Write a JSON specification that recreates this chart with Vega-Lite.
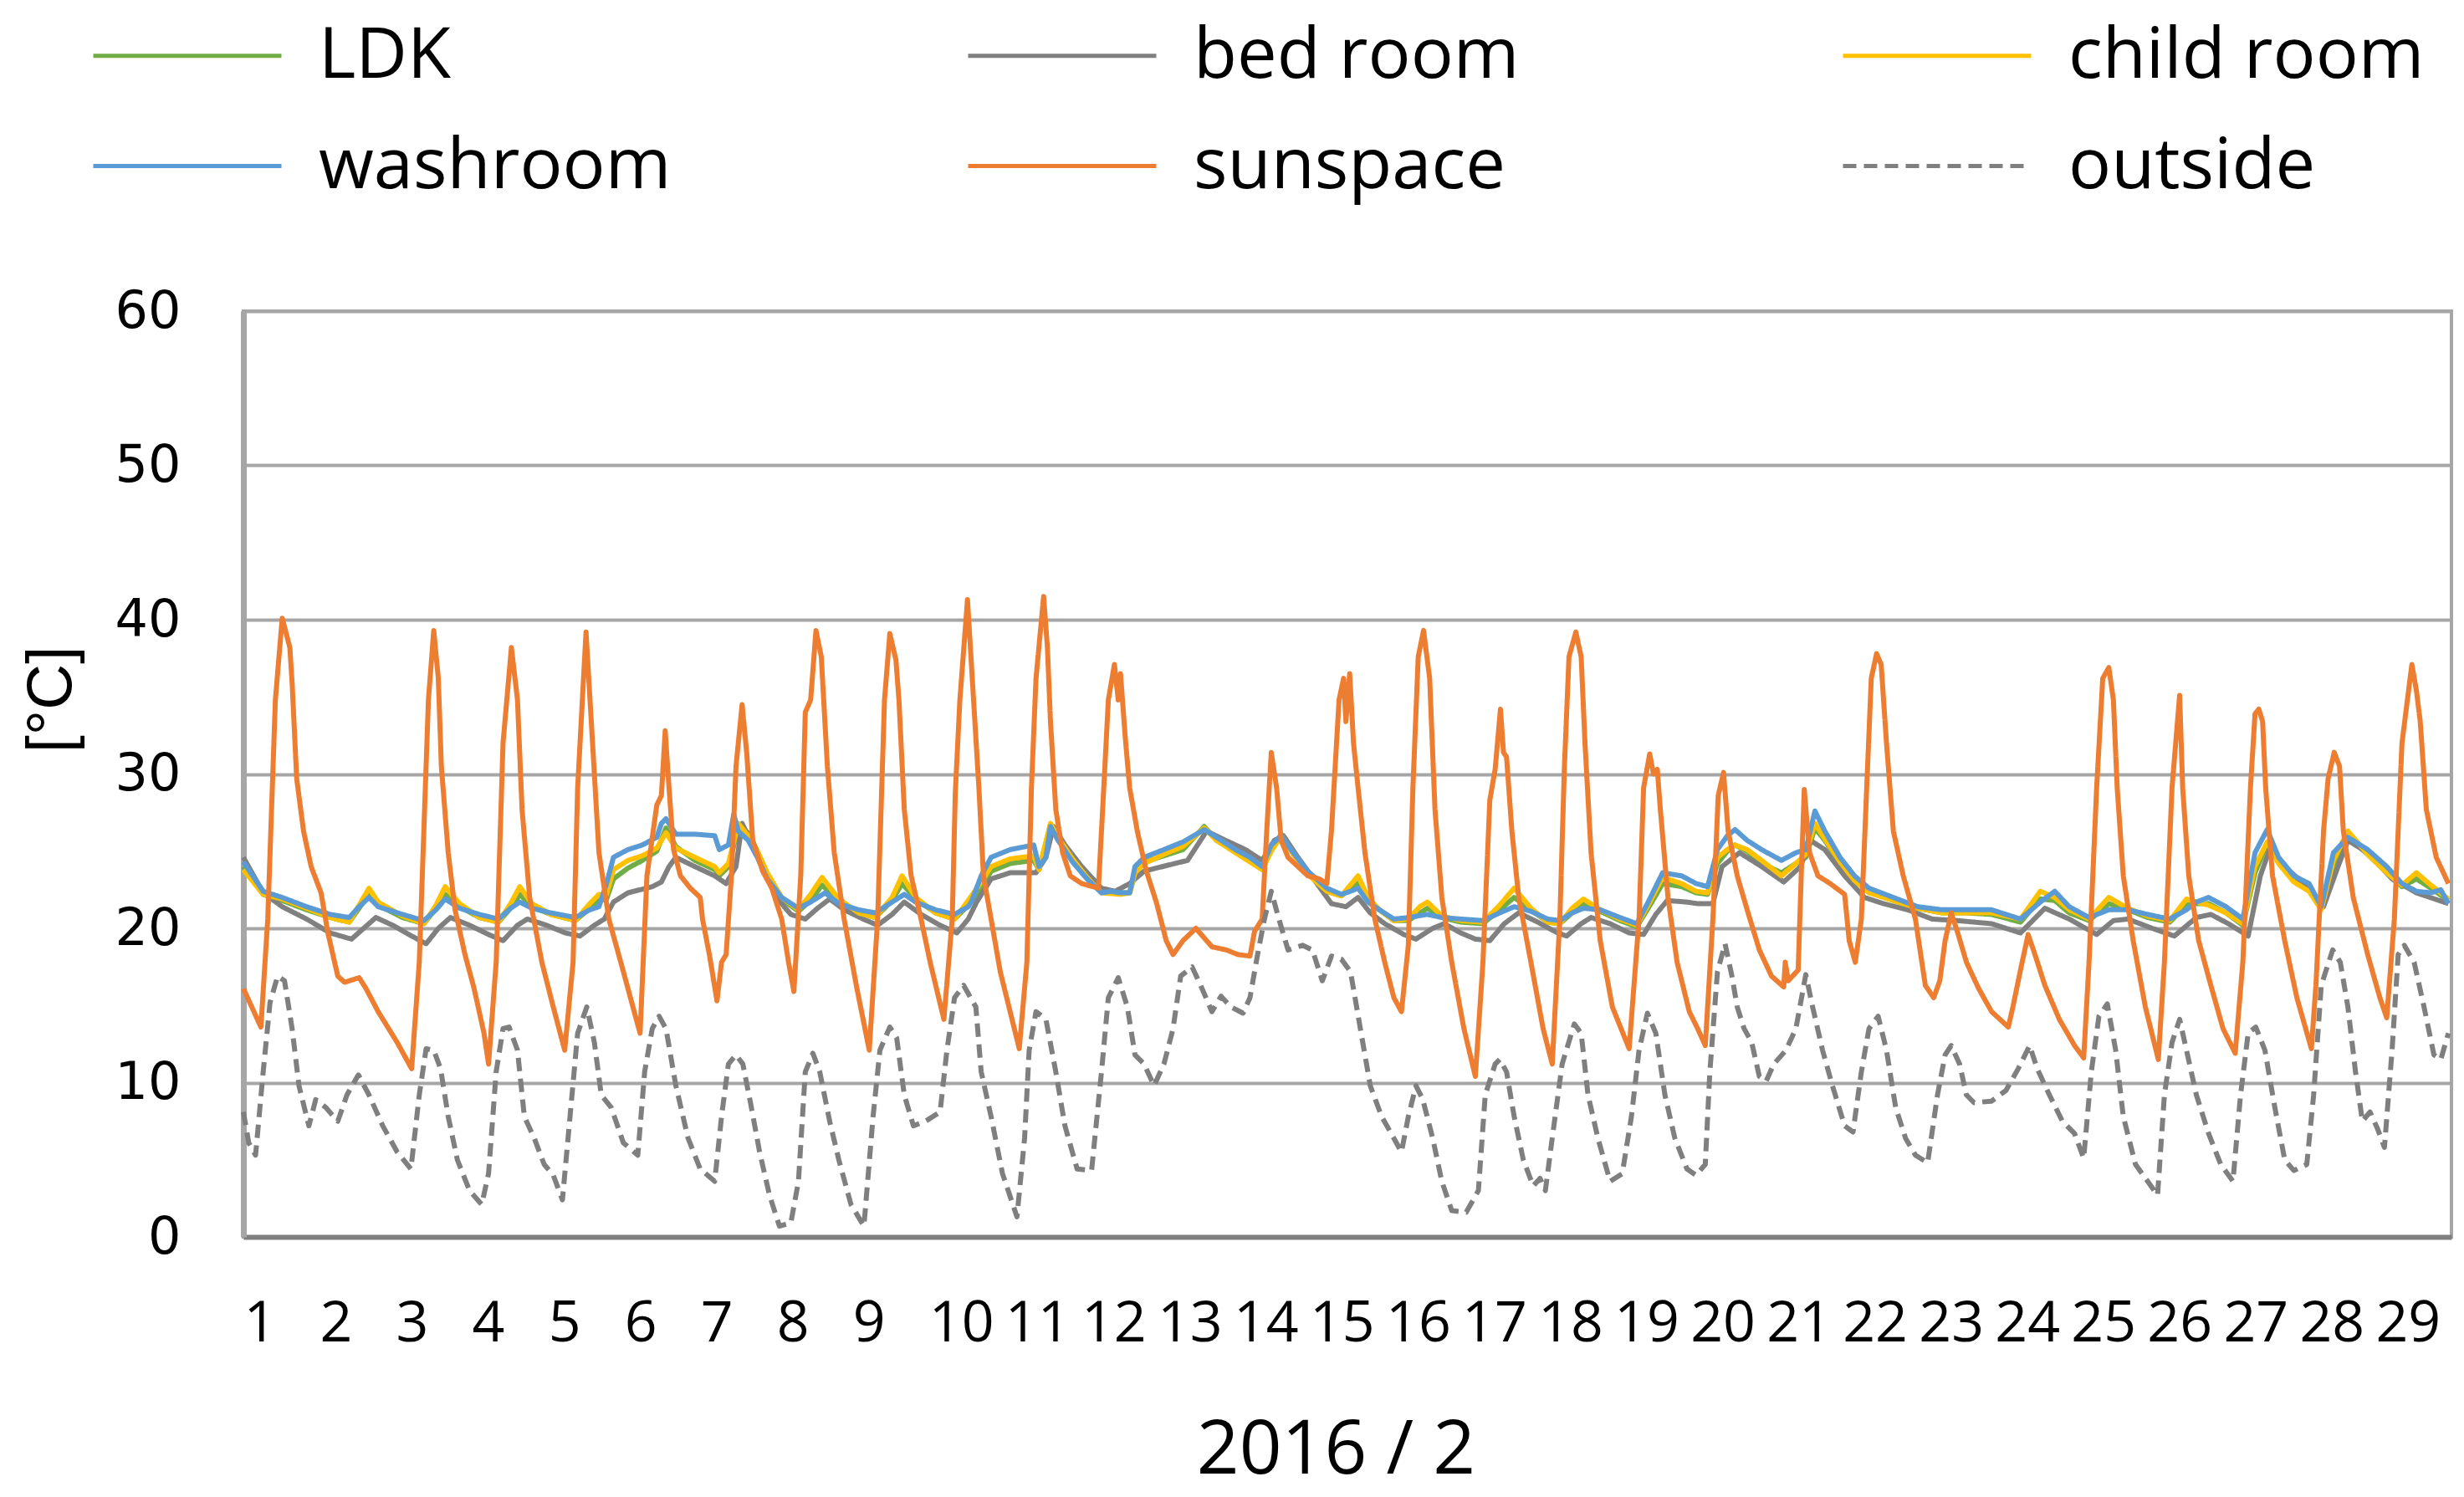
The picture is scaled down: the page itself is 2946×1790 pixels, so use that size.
{
"$schema":"https://vega.github.io/schema/vega-lite/v6.json",
"autosize":{"type":"none"},
"padding":{"left":291,"top":372,"right":15,"bottom":311},
"width":2640,"height":1107,
"background":"white",
"config":{"font":"Open Sans","view":{"stroke":"#A6A6A6","strokeWidth":4},
"legend":{"orient":"none","legendX":-182,"legendY":-348,"direction":"horizontal","columns":3,"gridAlign":"all","columnPadding":348,"rowPadding":46,"symbolType":"stroke","symbolSize":50625,"symbolStrokeWidth":5,"labelFontSize":85,"labelOffset":42,"clipHeight":85,"labelLimit":2000,"padding":0,"labelColor":"#000000","labelFont":"Open Sans"}},
"datasets":{
"LDK":[{"t":1.00,"v":24.0},{"t":1.26,"v":22.2},{"t":1.51,"v":21.8},{"t":1.83,"v":21.2},{"t":2.14,"v":20.7},{"t":2.39,"v":20.4},{"t":2.52,"v":21.3},{"t":2.65,"v":22.2},{"t":2.77,"v":21.5},{"t":3.09,"v":20.7},{"t":3.37,"v":20.3},{"t":3.53,"v":21.3},{"t":3.65,"v":22.2},{"t":3.84,"v":21.4},{"t":4.10,"v":20.7},{"t":4.35,"v":20.4},{"t":4.51,"v":21.3},{"t":4.63,"v":22.2},{"t":4.79,"v":21.4},{"t":5.04,"v":20.9},{"t":5.36,"v":20.5},{"t":5.55,"v":21.3},{"t":5.67,"v":21.8},{"t":5.77,"v":21.9},{"t":5.86,"v":23.2},{"t":6.05,"v":23.9},{"t":6.24,"v":24.4},{"t":6.43,"v":25.0},{"t":6.55,"v":26.5},{"t":6.68,"v":25.3},{"t":6.93,"v":24.4},{"t":7.19,"v":23.8},{"t":7.25,"v":23.4},{"t":7.37,"v":24.0},{"t":7.50,"v":26.5},{"t":7.63,"v":26.2},{"t":7.75,"v":25.0},{"t":7.88,"v":23.5},{"t":8.07,"v":21.9},{"t":8.29,"v":21.1},{"t":8.45,"v":21.8},{"t":8.60,"v":22.8},{"t":8.82,"v":21.8},{"t":9.08,"v":21.0},{"t":9.30,"v":20.7},{"t":9.52,"v":21.8},{"t":9.65,"v":22.9},{"t":9.83,"v":21.9},{"t":10.09,"v":21.0},{"t":10.34,"v":20.6},{"t":10.52,"v":21.5},{"t":10.69,"v":22.6},{"t":10.82,"v":23.7},{"t":11.07,"v":24.2},{"t":11.38,"v":24.4},{"t":11.45,"v":23.8},{"t":11.60,"v":26.7},{"t":11.70,"v":25.8},{"t":11.89,"v":24.5},{"t":12.08,"v":23.3},{"t":12.27,"v":22.4},{"t":12.52,"v":22.3},{"t":12.64,"v":22.3},{"t":12.71,"v":23.5},{"t":12.83,"v":24.3},{"t":13.09,"v":24.7},{"t":13.34,"v":25.1},{"t":13.62,"v":26.6},{"t":13.78,"v":25.7},{"t":14.03,"v":25.0},{"t":14.22,"v":24.4},{"t":14.38,"v":23.9},{"t":14.50,"v":25.1},{"t":14.63,"v":26.1},{"t":14.79,"v":24.8},{"t":14.98,"v":23.6},{"t":15.23,"v":22.4},{"t":15.42,"v":22.1},{"t":15.64,"v":23.0},{"t":15.77,"v":21.9},{"t":15.92,"v":21.2},{"t":16.11,"v":20.5},{"t":16.30,"v":20.5},{"t":16.55,"v":21.3},{"t":16.74,"v":20.7},{"t":16.99,"v":20.4},{"t":17.28,"v":20.3},{"t":17.50,"v":21.2},{"t":17.69,"v":22.0},{"t":17.91,"v":21.2},{"t":18.13,"v":20.4},{"t":18.29,"v":20.3},{"t":18.45,"v":21.0},{"t":18.60,"v":21.6},{"t":18.82,"v":21.1},{"t":19.08,"v":20.5},{"t":19.30,"v":20.1},{"t":19.45,"v":21.3},{"t":19.64,"v":22.9},{"t":19.89,"v":22.7},{"t":20.08,"v":22.3},{"t":20.23,"v":22.2},{"t":20.36,"v":24.2},{"t":20.49,"v":25.0},{"t":20.59,"v":25.4},{"t":20.75,"v":25.0},{"t":20.94,"v":24.2},{"t":21.20,"v":23.6},{"t":21.39,"v":24.2},{"t":21.52,"v":24.6},{"t":21.64,"v":26.5},{"t":21.77,"v":25.7},{"t":21.97,"v":24.2},{"t":22.16,"v":23.2},{"t":22.35,"v":22.4},{"t":22.67,"v":21.8},{"t":22.99,"v":21.3},{"t":23.31,"v":21.0},{"t":23.63,"v":21.0},{"t":23.96,"v":20.9},{"t":24.34,"v":20.4},{"t":24.60,"v":21.9},{"t":24.79,"v":21.8},{"t":24.98,"v":21.0},{"t":25.24,"v":20.5},{"t":25.50,"v":21.6},{"t":25.75,"v":21.2},{"t":26.01,"v":20.7},{"t":26.30,"v":20.4},{"t":26.52,"v":21.5},{"t":26.65,"v":21.6},{"t":26.81,"v":21.6},{"t":27.04,"v":21.0},{"t":27.26,"v":20.2},{"t":27.42,"v":23.6},{"t":27.58,"v":25.5},{"t":27.73,"v":24.3},{"t":27.93,"v":23.2},{"t":28.13,"v":22.5},{"t":28.29,"v":21.3},{"t":28.45,"v":24.1},{"t":28.64,"v":25.9},{"t":28.90,"v":24.8},{"t":29.15,"v":23.6},{"t":29.35,"v":22.7},{"t":29.54,"v":23.2},{"t":29.73,"v":22.6},{"t":29.96,"v":21.8}],
"bedroom":[{"t":1.00,"v":24.6},{"t":1.26,"v":22.3},{"t":1.51,"v":21.4},{"t":1.83,"v":20.6},{"t":2.14,"v":19.7},{"t":2.42,"v":19.3},{"t":2.58,"v":20.0},{"t":2.74,"v":20.7},{"t":2.96,"v":20.2},{"t":3.21,"v":19.5},{"t":3.40,"v":19.0},{"t":3.56,"v":20.0},{"t":3.72,"v":20.7},{"t":3.97,"v":20.2},{"t":4.22,"v":19.6},{"t":4.41,"v":19.2},{"t":4.60,"v":20.2},{"t":4.73,"v":20.6},{"t":4.98,"v":20.2},{"t":5.23,"v":19.7},{"t":5.42,"v":19.5},{"t":5.61,"v":20.2},{"t":5.74,"v":20.6},{"t":5.86,"v":21.7},{"t":6.05,"v":22.3},{"t":6.37,"v":22.7},{"t":6.49,"v":23.0},{"t":6.59,"v":24.0},{"t":6.68,"v":24.6},{"t":6.93,"v":24.0},{"t":7.19,"v":23.4},{"t":7.34,"v":22.9},{"t":7.47,"v":24.0},{"t":7.55,"v":26.8},{"t":7.66,"v":25.7},{"t":7.82,"v":24.0},{"t":8.00,"v":22.0},{"t":8.19,"v":20.9},{"t":8.38,"v":20.6},{"t":8.54,"v":21.3},{"t":8.70,"v":21.9},{"t":8.89,"v":21.2},{"t":9.14,"v":20.6},{"t":9.33,"v":20.2},{"t":9.52,"v":20.9},{"t":9.68,"v":21.7},{"t":9.90,"v":20.9},{"t":10.15,"v":20.2},{"t":10.37,"v":19.7},{"t":10.52,"v":20.6},{"t":10.63,"v":21.7},{"t":10.82,"v":23.2},{"t":11.07,"v":23.6},{"t":11.41,"v":23.6},{"t":11.54,"v":24.6},{"t":11.64,"v":26.6},{"t":11.79,"v":25.4},{"t":12.01,"v":24.0},{"t":12.27,"v":22.6},{"t":12.45,"v":22.4},{"t":12.64,"v":22.9},{"t":12.83,"v":23.7},{"t":13.15,"v":24.1},{"t":13.40,"v":24.4},{"t":13.65,"v":26.3},{"t":13.90,"v":25.7},{"t":14.16,"v":25.1},{"t":14.38,"v":24.4},{"t":14.54,"v":25.7},{"t":14.66,"v":26.0},{"t":14.85,"v":24.6},{"t":15.10,"v":22.9},{"t":15.29,"v":21.6},{"t":15.48,"v":21.4},{"t":15.64,"v":22.0},{"t":15.80,"v":21.0},{"t":15.99,"v":20.3},{"t":16.24,"v":19.6},{"t":16.40,"v":19.3},{"t":16.62,"v":20.0},{"t":16.77,"v":20.3},{"t":16.99,"v":19.7},{"t":17.18,"v":19.3},{"t":17.37,"v":19.2},{"t":17.56,"v":20.3},{"t":17.75,"v":21.0},{"t":18.00,"v":20.4},{"t":18.26,"v":19.7},{"t":18.38,"v":19.5},{"t":18.57,"v":20.3},{"t":18.70,"v":20.7},{"t":18.95,"v":20.3},{"t":19.20,"v":19.7},{"t":19.39,"v":19.6},{"t":19.55,"v":20.9},{"t":19.70,"v":21.8},{"t":19.96,"v":21.7},{"t":20.10,"v":21.6},{"t":20.30,"v":21.6},{"t":20.42,"v":24.0},{"t":20.65,"v":24.9},{"t":20.94,"v":24.0},{"t":21.23,"v":23.0},{"t":21.45,"v":24.0},{"t":21.58,"v":25.7},{"t":21.77,"v":25.1},{"t":22.03,"v":23.4},{"t":22.29,"v":22.0},{"t":22.54,"v":21.6},{"t":22.86,"v":21.2},{"t":23.18,"v":20.6},{"t":23.51,"v":20.5},{"t":23.96,"v":20.3},{"t":24.34,"v":19.7},{"t":24.66,"v":21.3},{"t":24.98,"v":20.6},{"t":25.34,"v":19.6},{"t":25.56,"v":20.5},{"t":25.75,"v":20.6},{"t":26.07,"v":20.0},{"t":26.36,"v":19.5},{"t":26.65,"v":20.7},{"t":26.84,"v":20.9},{"t":27.07,"v":20.3},{"t":27.33,"v":19.5},{"t":27.49,"v":23.4},{"t":27.61,"v":25.1},{"t":27.81,"v":24.0},{"t":28.06,"v":22.9},{"t":28.32,"v":21.4},{"t":28.51,"v":24.0},{"t":28.64,"v":25.7},{"t":28.90,"v":24.9},{"t":29.22,"v":23.2},{"t":29.54,"v":22.3},{"t":29.96,"v":21.6}],
"child":[{"t":1.00,"v":23.8},{"t":1.26,"v":22.2},{"t":1.51,"v":21.9},{"t":1.83,"v":21.3},{"t":2.14,"v":20.7},{"t":2.39,"v":20.4},{"t":2.52,"v":21.5},{"t":2.65,"v":22.6},{"t":2.77,"v":21.7},{"t":3.09,"v":20.8},{"t":3.37,"v":20.3},{"t":3.53,"v":21.5},{"t":3.65,"v":22.7},{"t":3.84,"v":21.6},{"t":4.10,"v":20.7},{"t":4.35,"v":20.4},{"t":4.51,"v":21.6},{"t":4.63,"v":22.7},{"t":4.79,"v":21.6},{"t":5.04,"v":20.9},{"t":5.36,"v":20.5},{"t":5.55,"v":21.6},{"t":5.67,"v":22.2},{"t":5.77,"v":22.2},{"t":5.86,"v":23.8},{"t":6.05,"v":24.4},{"t":6.24,"v":24.7},{"t":6.43,"v":25.2},{"t":6.55,"v":26.2},{"t":6.68,"v":25.2},{"t":6.93,"v":24.6},{"t":7.19,"v":24.0},{"t":7.25,"v":23.6},{"t":7.37,"v":24.2},{"t":7.50,"v":26.8},{"t":7.63,"v":26.0},{"t":7.75,"v":25.0},{"t":7.88,"v":23.6},{"t":8.07,"v":22.0},{"t":8.29,"v":21.2},{"t":8.45,"v":22.2},{"t":8.60,"v":23.3},{"t":8.82,"v":21.9},{"t":9.08,"v":21.0},{"t":9.30,"v":20.7},{"t":9.52,"v":22.0},{"t":9.65,"v":23.4},{"t":9.83,"v":22.0},{"t":10.09,"v":21.0},{"t":10.34,"v":20.6},{"t":10.52,"v":21.8},{"t":10.69,"v":23.0},{"t":10.82,"v":24.0},{"t":11.07,"v":24.5},{"t":11.38,"v":24.7},{"t":11.45,"v":23.8},{"t":11.60,"v":26.8},{"t":11.70,"v":25.9},{"t":11.89,"v":24.5},{"t":12.08,"v":23.3},{"t":12.27,"v":22.3},{"t":12.52,"v":22.2},{"t":12.64,"v":22.3},{"t":12.71,"v":23.6},{"t":12.83,"v":24.2},{"t":13.09,"v":24.8},{"t":13.34,"v":25.3},{"t":13.62,"v":26.5},{"t":13.78,"v":25.7},{"t":14.03,"v":24.9},{"t":14.22,"v":24.3},{"t":14.38,"v":23.8},{"t":14.50,"v":25.0},{"t":14.63,"v":26.0},{"t":14.79,"v":24.8},{"t":14.98,"v":23.5},{"t":15.23,"v":22.4},{"t":15.42,"v":22.1},{"t":15.64,"v":23.4},{"t":15.77,"v":22.0},{"t":15.92,"v":21.2},{"t":16.11,"v":20.5},{"t":16.30,"v":20.6},{"t":16.45,"v":21.4},{"t":16.55,"v":21.7},{"t":16.74,"v":20.8},{"t":16.99,"v":20.5},{"t":17.28,"v":20.4},{"t":17.50,"v":21.5},{"t":17.69,"v":22.6},{"t":17.91,"v":21.3},{"t":18.13,"v":20.4},{"t":18.29,"v":20.3},{"t":18.45,"v":21.3},{"t":18.60,"v":21.9},{"t":18.82,"v":21.2},{"t":19.08,"v":20.6},{"t":19.30,"v":20.2},{"t":19.45,"v":21.5},{"t":19.64,"v":23.3},{"t":19.89,"v":22.9},{"t":20.08,"v":22.4},{"t":20.23,"v":22.3},{"t":20.36,"v":24.6},{"t":20.49,"v":25.1},{"t":20.59,"v":25.4},{"t":20.75,"v":25.1},{"t":20.94,"v":24.4},{"t":21.20,"v":23.4},{"t":21.39,"v":24.2},{"t":21.52,"v":24.8},{"t":21.64,"v":26.8},{"t":21.77,"v":25.8},{"t":21.97,"v":24.3},{"t":22.16,"v":23.1},{"t":22.35,"v":22.3},{"t":22.67,"v":21.8},{"t":22.99,"v":21.3},{"t":23.31,"v":21.0},{"t":23.63,"v":21.0},{"t":23.96,"v":21.0},{"t":24.34,"v":20.6},{"t":24.60,"v":22.4},{"t":24.79,"v":22.0},{"t":24.98,"v":21.2},{"t":25.24,"v":20.6},{"t":25.50,"v":22.0},{"t":25.75,"v":21.3},{"t":26.01,"v":20.8},{"t":26.30,"v":20.5},{"t":26.52,"v":21.9},{"t":26.65,"v":21.7},{"t":26.81,"v":21.5},{"t":27.04,"v":21.0},{"t":27.26,"v":20.3},{"t":27.42,"v":24.0},{"t":27.58,"v":25.6},{"t":27.73,"v":24.2},{"t":27.93,"v":23.0},{"t":28.13,"v":22.4},{"t":28.29,"v":21.2},{"t":28.45,"v":24.4},{"t":28.64,"v":26.3},{"t":28.90,"v":24.8},{"t":29.15,"v":23.6},{"t":29.35,"v":22.8},{"t":29.54,"v":23.6},{"t":29.73,"v":22.8},{"t":29.96,"v":21.9}],
"washroom":[{"t":1.00,"v":24.3},{"t":1.26,"v":22.4},{"t":1.51,"v":22.0},{"t":1.83,"v":21.4},{"t":2.14,"v":20.9},{"t":2.39,"v":20.7},{"t":2.52,"v":21.4},{"t":2.65,"v":22.0},{"t":2.77,"v":21.4},{"t":3.09,"v":20.9},{"t":3.37,"v":20.5},{"t":3.53,"v":21.2},{"t":3.65,"v":21.9},{"t":3.84,"v":21.3},{"t":4.10,"v":20.9},{"t":4.35,"v":20.6},{"t":4.51,"v":21.3},{"t":4.63,"v":21.7},{"t":4.79,"v":21.3},{"t":5.04,"v":21.0},{"t":5.36,"v":20.7},{"t":5.55,"v":21.2},{"t":5.67,"v":21.4},{"t":5.77,"v":22.9},{"t":5.86,"v":24.6},{"t":6.05,"v":25.1},{"t":6.24,"v":25.4},{"t":6.43,"v":25.9},{"t":6.49,"v":26.8},{"t":6.55,"v":27.1},{"t":6.68,"v":26.1},{"t":6.93,"v":26.1},{"t":7.19,"v":26.0},{"t":7.25,"v":25.1},{"t":7.37,"v":25.4},{"t":7.44,"v":27.4},{"t":7.50,"v":26.3},{"t":7.63,"v":25.7},{"t":7.75,"v":24.6},{"t":7.88,"v":23.2},{"t":8.07,"v":22.0},{"t":8.29,"v":21.3},{"t":8.45,"v":21.7},{"t":8.64,"v":22.3},{"t":8.82,"v":21.6},{"t":9.08,"v":21.2},{"t":9.30,"v":21.0},{"t":9.52,"v":21.7},{"t":9.68,"v":22.2},{"t":9.83,"v":21.7},{"t":10.09,"v":21.2},{"t":10.34,"v":20.9},{"t":10.52,"v":21.4},{"t":10.56,"v":21.7},{"t":10.69,"v":23.4},{"t":10.82,"v":24.6},{"t":11.07,"v":25.1},{"t":11.38,"v":25.4},{"t":11.45,"v":24.0},{"t":11.54,"v":24.6},{"t":11.60,"v":26.6},{"t":11.70,"v":25.7},{"t":11.89,"v":24.3},{"t":12.08,"v":23.2},{"t":12.27,"v":22.3},{"t":12.39,"v":22.4},{"t":12.52,"v":22.3},{"t":12.64,"v":22.3},{"t":12.71,"v":24.0},{"t":12.83,"v":24.6},{"t":13.09,"v":25.1},{"t":13.34,"v":25.6},{"t":13.62,"v":26.4},{"t":13.78,"v":25.9},{"t":14.03,"v":25.1},{"t":14.22,"v":24.6},{"t":14.38,"v":24.0},{"t":14.50,"v":25.4},{"t":14.63,"v":26.0},{"t":14.79,"v":24.9},{"t":14.98,"v":23.7},{"t":15.23,"v":22.6},{"t":15.42,"v":22.2},{"t":15.54,"v":22.4},{"t":15.64,"v":22.6},{"t":15.77,"v":21.7},{"t":15.92,"v":21.2},{"t":16.11,"v":20.6},{"t":16.30,"v":20.7},{"t":16.55,"v":20.9},{"t":16.74,"v":20.7},{"t":16.99,"v":20.6},{"t":17.28,"v":20.5},{"t":17.50,"v":21.0},{"t":17.69,"v":21.4},{"t":17.91,"v":21.1},{"t":18.13,"v":20.6},{"t":18.29,"v":20.5},{"t":18.45,"v":21.0},{"t":18.60,"v":21.3},{"t":18.82,"v":21.2},{"t":19.08,"v":20.7},{"t":19.30,"v":20.3},{"t":19.45,"v":21.7},{"t":19.64,"v":23.6},{"t":19.89,"v":23.4},{"t":20.08,"v":22.9},{"t":20.23,"v":22.7},{"t":20.36,"v":25.1},{"t":20.49,"v":26.0},{"t":20.59,"v":26.4},{"t":20.75,"v":25.7},{"t":20.94,"v":25.1},{"t":21.20,"v":24.4},{"t":21.39,"v":24.9},{"t":21.52,"v":25.1},{"t":21.64,"v":27.6},{"t":21.77,"v":26.3},{"t":21.97,"v":24.6},{"t":22.16,"v":23.4},{"t":22.35,"v":22.6},{"t":22.67,"v":22.0},{"t":22.99,"v":21.4},{"t":23.31,"v":21.2},{"t":23.63,"v":21.2},{"t":23.96,"v":21.2},{"t":24.34,"v":20.6},{"t":24.60,"v":21.7},{"t":24.79,"v":22.4},{"t":24.98,"v":21.4},{"t":25.24,"v":20.7},{"t":25.50,"v":21.2},{"t":25.75,"v":21.2},{"t":26.01,"v":20.9},{"t":26.30,"v":20.6},{"t":26.52,"v":21.2},{"t":26.65,"v":21.7},{"t":26.81,"v":22.0},{"t":27.04,"v":21.4},{"t":27.26,"v":20.6},{"t":27.42,"v":24.9},{"t":27.58,"v":26.4},{"t":27.73,"v":24.6},{"t":27.93,"v":23.4},{"t":28.13,"v":22.9},{"t":28.29,"v":21.4},{"t":28.45,"v":24.9},{"t":28.64,"v":25.9},{"t":28.90,"v":25.1},{"t":29.15,"v":24.0},{"t":29.35,"v":22.9},{"t":29.54,"v":22.4},{"t":29.73,"v":22.3},{"t":29.86,"v":22.5},{"t":29.96,"v":21.6}],
"sunspace":[{"t":1.00,"v":16.1},{"t":1.23,"v":13.6},{"t":1.32,"v":20.6},{"t":1.42,"v":34.8},{"t":1.51,"v":40.1},{"t":1.61,"v":38.2},{"t":1.64,"v":35.9},{"t":1.70,"v":29.7},{"t":1.79,"v":26.3},{"t":1.89,"v":24.0},{"t":2.02,"v":22.3},{"t":2.11,"v":19.7},{"t":2.24,"v":16.9},{"t":2.33,"v":16.5},{"t":2.52,"v":16.8},{"t":2.61,"v":16.1},{"t":2.77,"v":14.6},{"t":3.02,"v":12.6},{"t":3.21,"v":10.9},{"t":3.31,"v":17.8},{"t":3.37,"v":26.3},{"t":3.43,"v":34.8},{"t":3.50,"v":39.3},{"t":3.56,"v":36.2},{"t":3.60,"v":30.5},{"t":3.69,"v":24.9},{"t":3.78,"v":21.2},{"t":3.91,"v":18.3},{"t":4.03,"v":16.1},{"t":4.16,"v":13.2},{"t":4.22,"v":11.2},{"t":4.32,"v":17.8},{"t":4.41,"v":32.0},{"t":4.52,"v":38.2},{"t":4.60,"v":34.8},{"t":4.66,"v":27.7},{"t":4.76,"v":22.0},{"t":4.92,"v":17.8},{"t":5.07,"v":14.9},{"t":5.22,"v":12.1},{"t":5.33,"v":17.8},{"t":5.39,"v":29.1},{"t":5.50,"v":39.2},{"t":5.58,"v":32.5},{"t":5.67,"v":24.9},{"t":5.80,"v":20.6},{"t":5.99,"v":17.2},{"t":6.21,"v":13.2},{"t":6.30,"v":23.4},{"t":6.43,"v":28.0},{"t":6.49,"v":28.6},{"t":6.54,"v":32.8},{"t":6.59,"v":29.1},{"t":6.65,"v":25.1},{"t":6.74,"v":23.4},{"t":6.87,"v":22.6},{"t":7.00,"v":22.0},{"t":7.03,"v":20.6},{"t":7.12,"v":18.3},{"t":7.22,"v":15.3},{"t":7.28,"v":17.8},{"t":7.34,"v":18.3},{"t":7.41,"v":23.4},{"t":7.47,"v":30.5},{"t":7.55,"v":34.5},{"t":7.61,"v":31.4},{"t":7.69,"v":25.7},{"t":7.82,"v":23.7},{"t":7.94,"v":22.6},{"t":8.07,"v":20.6},{"t":8.16,"v":17.8},{"t":8.23,"v":15.9},{"t":8.32,"v":23.4},{"t":8.38,"v":34.0},{"t":8.45,"v":34.8},{"t":8.52,"v":39.3},{"t":8.59,"v":37.6},{"t":8.67,"v":30.5},{"t":8.76,"v":24.9},{"t":8.89,"v":20.6},{"t":9.05,"v":16.3},{"t":9.22,"v":12.1},{"t":9.33,"v":20.6},{"t":9.42,"v":34.8},{"t":9.49,"v":39.1},{"t":9.57,"v":37.4},{"t":9.61,"v":34.8},{"t":9.68,"v":27.7},{"t":9.77,"v":23.4},{"t":9.90,"v":20.6},{"t":10.02,"v":17.8},{"t":10.20,"v":14.1},{"t":10.31,"v":20.6},{"t":10.35,"v":28.8},{"t":10.41,"v":34.8},{"t":10.51,"v":41.3},{"t":10.59,"v":34.8},{"t":10.66,"v":29.1},{"t":10.72,"v":23.4},{"t":10.82,"v":20.6},{"t":10.94,"v":17.2},{"t":11.07,"v":14.6},{"t":11.19,"v":12.2},{"t":11.29,"v":17.8},{"t":11.35,"v":29.1},{"t":11.41,"v":36.2},{"t":11.51,"v":41.5},{"t":11.56,"v":38.2},{"t":11.60,"v":33.4},{"t":11.67,"v":27.7},{"t":11.76,"v":24.9},{"t":11.86,"v":23.4},{"t":12.01,"v":22.9},{"t":12.23,"v":22.6},{"t":12.30,"v":29.1},{"t":12.36,"v":34.8},{"t":12.44,"v":37.1},{"t":12.49,"v":34.8},{"t":12.52,"v":36.5},{"t":12.58,"v":32.5},{"t":12.64,"v":29.1},{"t":12.74,"v":26.3},{"t":12.86,"v":23.7},{"t":12.99,"v":21.7},{"t":13.12,"v":19.2},{"t":13.21,"v":18.3},{"t":13.34,"v":19.2},{"t":13.51,"v":20.0},{"t":13.72,"v":18.8},{"t":13.91,"v":18.6},{"t":14.06,"v":18.3},{"t":14.22,"v":18.2},{"t":14.28,"v":19.8},{"t":14.38,"v":20.6},{"t":14.44,"v":26.3},{"t":14.50,"v":31.4},{"t":14.57,"v":29.1},{"t":14.63,"v":25.7},{"t":14.72,"v":24.6},{"t":14.85,"v":24.0},{"t":14.98,"v":23.4},{"t":15.13,"v":23.2},{"t":15.23,"v":22.9},{"t":15.29,"v":26.3},{"t":15.39,"v":34.8},{"t":15.45,"v":36.2},{"t":15.48,"v":33.4},{"t":15.53,"v":36.5},{"t":15.58,"v":32.0},{"t":15.64,"v":29.1},{"t":15.73,"v":24.9},{"t":15.86,"v":20.6},{"t":15.99,"v":17.8},{"t":16.11,"v":15.5},{"t":16.21,"v":14.6},{"t":16.30,"v":18.9},{"t":16.36,"v":29.1},{"t":16.43,"v":37.6},{"t":16.50,"v":39.3},{"t":16.58,"v":36.2},{"t":16.65,"v":27.7},{"t":16.74,"v":22.0},{"t":16.87,"v":17.8},{"t":17.03,"v":13.5},{"t":17.18,"v":10.4},{"t":17.28,"v":17.8},{"t":17.37,"v":28.3},{"t":17.44,"v":30.3},{"t":17.51,"v":34.2},{"t":17.55,"v":31.4},{"t":17.59,"v":31.1},{"t":17.66,"v":26.3},{"t":17.75,"v":22.0},{"t":17.91,"v":17.8},{"t":18.07,"v":13.5},{"t":18.19,"v":11.2},{"t":18.29,"v":20.6},{"t":18.35,"v":30.5},{"t":18.41,"v":37.6},{"t":18.50,"v":39.2},{"t":18.57,"v":37.6},{"t":18.62,"v":32.0},{"t":18.70,"v":24.9},{"t":18.82,"v":19.2},{"t":18.98,"v":14.9},{"t":19.20,"v":12.2},{"t":19.33,"v":20.6},{"t":19.39,"v":29.1},{"t":19.47,"v":31.3},{"t":19.52,"v":30.0},{"t":19.57,"v":30.3},{"t":19.61,"v":27.7},{"t":19.71,"v":22.0},{"t":19.83,"v":17.8},{"t":19.99,"v":14.6},{"t":20.10,"v":13.5},{"t":20.20,"v":12.4},{"t":20.30,"v":20.6},{"t":20.37,"v":28.6},{"t":20.44,"v":30.1},{"t":20.50,"v":26.3},{"t":20.62,"v":23.4},{"t":20.75,"v":21.2},{"t":20.91,"v":18.6},{"t":21.07,"v":16.9},{"t":21.23,"v":16.2},{"t":21.25,"v":17.8},{"t":21.29,"v":16.6},{"t":21.42,"v":17.3},{"t":21.46,"v":23.4},{"t":21.50,"v":29.0},{"t":21.57,"v":24.9},{"t":21.68,"v":23.4},{"t":21.84,"v":22.9},{"t":22.03,"v":22.2},{"t":22.09,"v":19.2},{"t":22.17,"v":17.8},{"t":22.25,"v":20.6},{"t":22.32,"v":29.1},{"t":22.38,"v":36.2},{"t":22.45,"v":37.8},{"t":22.51,"v":37.1},{"t":22.58,"v":32.0},{"t":22.67,"v":26.3},{"t":22.80,"v":23.4},{"t":22.96,"v":20.6},{"t":23.09,"v":16.3},{"t":23.20,"v":15.5},{"t":23.28,"v":16.6},{"t":23.35,"v":19.2},{"t":23.43,"v":21.0},{"t":23.51,"v":19.8},{"t":23.63,"v":17.8},{"t":23.79,"v":16.1},{"t":23.96,"v":14.6},{"t":24.18,"v":13.6},{"t":24.24,"v":14.9},{"t":24.34,"v":17.3},{"t":24.44,"v":19.6},{"t":24.53,"v":18.3},{"t":24.66,"v":16.3},{"t":24.85,"v":14.1},{"t":25.05,"v":12.4},{"t":25.17,"v":11.6},{"t":25.24,"v":17.8},{"t":25.34,"v":29.1},{"t":25.42,"v":36.2},{"t":25.50,"v":36.9},{"t":25.56,"v":34.8},{"t":25.61,"v":29.1},{"t":25.69,"v":23.4},{"t":25.82,"v":19.2},{"t":25.98,"v":14.9},{"t":26.15,"v":11.5},{"t":26.23,"v":17.8},{"t":26.33,"v":29.1},{"t":26.43,"v":35.1},{"t":26.47,"v":29.1},{"t":26.55,"v":23.4},{"t":26.68,"v":19.2},{"t":26.84,"v":16.3},{"t":27.00,"v":13.5},{"t":27.16,"v":11.9},{"t":27.26,"v":17.8},{"t":27.36,"v":29.1},{"t":27.42,"v":33.9},{"t":27.47,"v":34.2},{"t":27.52,"v":33.4},{"t":27.56,"v":29.1},{"t":27.65,"v":23.4},{"t":27.81,"v":19.2},{"t":27.97,"v":15.5},{"t":28.16,"v":12.2},{"t":28.22,"v":16.3},{"t":28.32,"v":26.3},{"t":28.38,"v":29.7},{"t":28.46,"v":31.4},{"t":28.53,"v":30.5},{"t":28.58,"v":26.3},{"t":28.71,"v":22.0},{"t":28.90,"v":18.3},{"t":29.06,"v":15.5},{"t":29.15,"v":14.2},{"t":29.25,"v":20.6},{"t":29.35,"v":32.0},{"t":29.48,"v":37.1},{"t":29.54,"v":35.4},{"t":29.59,"v":33.4},{"t":29.67,"v":27.7},{"t":29.80,"v":24.6},{"t":29.96,"v":22.9}],
"outside":[{"t":1.00,"v":8.1},{"t":1.07,"v":6.1},{"t":1.16,"v":5.3},{"t":1.26,"v":10.7},{"t":1.35,"v":15.2},{"t":1.45,"v":16.9},{"t":1.54,"v":16.6},{"t":1.64,"v":13.5},{"t":1.73,"v":9.8},{"t":1.86,"v":7.2},{"t":1.95,"v":8.9},{"t":2.08,"v":8.4},{"t":2.24,"v":7.5},{"t":2.36,"v":9.2},{"t":2.51,"v":10.5},{"t":2.65,"v":9.2},{"t":2.83,"v":7.2},{"t":3.02,"v":5.5},{"t":3.20,"v":4.4},{"t":3.31,"v":9.2},{"t":3.40,"v":12.2},{"t":3.50,"v":12.1},{"t":3.59,"v":10.9},{"t":3.69,"v":7.8},{"t":3.81,"v":5.0},{"t":3.97,"v":3.0},{"t":4.13,"v":2.1},{"t":4.22,"v":4.1},{"t":4.32,"v":10.7},{"t":4.41,"v":13.5},{"t":4.49,"v":13.6},{"t":4.60,"v":12.1},{"t":4.69,"v":7.8},{"t":4.82,"v":6.4},{"t":4.95,"v":4.7},{"t":5.07,"v":4.0},{"t":5.19,"v":2.4},{"t":5.29,"v":7.8},{"t":5.39,"v":13.2},{"t":5.51,"v":14.9},{"t":5.61,"v":12.6},{"t":5.70,"v":9.2},{"t":5.83,"v":8.4},{"t":5.99,"v":6.1},{"t":6.18,"v":5.3},{"t":6.27,"v":10.7},{"t":6.37,"v":13.5},{"t":6.46,"v":14.3},{"t":6.55,"v":13.5},{"t":6.68,"v":9.8},{"t":6.84,"v":6.4},{"t":7.00,"v":4.4},{"t":7.19,"v":3.6},{"t":7.28,"v":7.8},{"t":7.37,"v":11.2},{"t":7.47,"v":11.8},{"t":7.56,"v":11.2},{"t":7.66,"v":8.7},{"t":7.78,"v":5.5},{"t":7.91,"v":2.7},{"t":8.04,"v":0.7},{"t":8.19,"v":0.9},{"t":8.29,"v":3.6},{"t":8.38,"v":10.7},{"t":8.48,"v":11.9},{"t":8.57,"v":10.7},{"t":8.70,"v":7.5},{"t":8.82,"v":5.0},{"t":8.98,"v":2.1},{"t":9.15,"v":0.7},{"t":9.27,"v":7.8},{"t":9.36,"v":12.1},{"t":9.49,"v":13.6},{"t":9.58,"v":12.9},{"t":9.68,"v":9.2},{"t":9.80,"v":7.2},{"t":9.96,"v":7.5},{"t":10.15,"v":8.1},{"t":10.24,"v":12.1},{"t":10.34,"v":15.5},{"t":10.46,"v":16.3},{"t":10.62,"v":14.9},{"t":10.69,"v":10.7},{"t":10.82,"v":7.8},{"t":10.97,"v":4.1},{"t":11.16,"v":1.3},{"t":11.26,"v":6.4},{"t":11.32,"v":12.1},{"t":11.41,"v":14.6},{"t":11.54,"v":14.1},{"t":11.67,"v":10.7},{"t":11.79,"v":7.2},{"t":11.95,"v":4.4},{"t":12.14,"v":4.3},{"t":12.27,"v":10.7},{"t":12.36,"v":15.5},{"t":12.49,"v":16.8},{"t":12.61,"v":14.9},{"t":12.71,"v":11.8},{"t":12.83,"v":11.2},{"t":12.96,"v":9.8},{"t":13.09,"v":11.2},{"t":13.21,"v":13.5},{"t":13.31,"v":16.9},{"t":13.46,"v":17.5},{"t":13.59,"v":16.1},{"t":13.72,"v":14.6},{"t":13.84,"v":15.6},{"t":13.97,"v":14.9},{"t":14.13,"v":14.5},{"t":14.22,"v":15.5},{"t":14.32,"v":18.3},{"t":14.41,"v":20.6},{"t":14.50,"v":22.4},{"t":14.60,"v":20.6},{"t":14.72,"v":18.6},{"t":14.91,"v":18.9},{"t":15.04,"v":18.6},{"t":15.17,"v":16.6},{"t":15.29,"v":18.2},{"t":15.42,"v":18.0},{"t":15.54,"v":17.2},{"t":15.67,"v":13.5},{"t":15.80,"v":9.8},{"t":15.95,"v":7.8},{"t":16.11,"v":6.4},{"t":16.21,"v":5.5},{"t":16.30,"v":7.8},{"t":16.40,"v":9.8},{"t":16.49,"v":8.9},{"t":16.62,"v":6.4},{"t":16.74,"v":3.6},{"t":16.87,"v":1.7},{"t":17.06,"v":1.6},{"t":17.22,"v":3.0},{"t":17.31,"v":9.2},{"t":17.44,"v":11.2},{"t":17.50,"v":11.5},{"t":17.59,"v":10.7},{"t":17.69,"v":7.8},{"t":17.81,"v":5.0},{"t":17.94,"v":3.3},{"t":18.03,"v":3.8},{"t":18.10,"v":3.0},{"t":18.19,"v":6.4},{"t":18.32,"v":11.2},{"t":18.48,"v":13.8},{"t":18.57,"v":13.2},{"t":18.66,"v":9.2},{"t":18.79,"v":6.4},{"t":18.95,"v":3.6},{"t":19.11,"v":4.1},{"t":19.23,"v":7.8},{"t":19.33,"v":12.1},{"t":19.44,"v":14.5},{"t":19.55,"v":13.2},{"t":19.67,"v":9.2},{"t":19.80,"v":6.4},{"t":19.96,"v":4.4},{"t":20.08,"v":4.0},{"t":20.20,"v":4.7},{"t":20.26,"v":10.7},{"t":20.36,"v":17.2},{"t":20.46,"v":19.0},{"t":20.55,"v":16.9},{"t":20.62,"v":14.9},{"t":20.71,"v":13.5},{"t":20.81,"v":12.6},{"t":20.91,"v":10.4},{"t":21.00,"v":10.1},{"t":21.10,"v":11.2},{"t":21.26,"v":12.1},{"t":21.39,"v":13.5},{"t":21.52,"v":17.0},{"t":21.61,"v":14.9},{"t":21.74,"v":12.1},{"t":21.87,"v":9.8},{"t":22.03,"v":7.2},{"t":22.14,"v":6.8},{"t":22.25,"v":10.7},{"t":22.35,"v":13.5},{"t":22.47,"v":14.3},{"t":22.58,"v":12.1},{"t":22.70,"v":8.4},{"t":22.83,"v":6.4},{"t":22.96,"v":5.3},{"t":23.12,"v":4.8},{"t":23.25,"v":9.2},{"t":23.35,"v":11.8},{"t":23.43,"v":12.4},{"t":23.54,"v":11.2},{"t":23.63,"v":9.2},{"t":23.73,"v":8.7},{"t":23.96,"v":8.8},{"t":24.15,"v":9.5},{"t":24.31,"v":10.9},{"t":24.46,"v":12.4},{"t":24.56,"v":10.9},{"t":24.72,"v":9.2},{"t":24.89,"v":7.5},{"t":25.05,"v":6.7},{"t":25.17,"v":5.1},{"t":25.27,"v":10.7},{"t":25.37,"v":14.3},{"t":25.48,"v":15.1},{"t":25.59,"v":12.1},{"t":25.69,"v":7.8},{"t":25.85,"v":4.7},{"t":26.01,"v":3.6},{"t":26.14,"v":2.7},{"t":26.23,"v":9.2},{"t":26.33,"v":12.6},{"t":26.43,"v":14.1},{"t":26.52,"v":12.1},{"t":26.65,"v":9.2},{"t":26.81,"v":6.7},{"t":26.97,"v":4.7},{"t":27.13,"v":3.6},{"t":27.23,"v":9.2},{"t":27.33,"v":13.2},{"t":27.43,"v":13.6},{"t":27.55,"v":12.1},{"t":27.68,"v":8.4},{"t":27.81,"v":5.0},{"t":27.93,"v":4.3},{"t":28.10,"v":4.7},{"t":28.19,"v":9.2},{"t":28.29,"v":16.3},{"t":28.44,"v":18.6},{"t":28.54,"v":17.8},{"t":28.64,"v":14.9},{"t":28.74,"v":10.7},{"t":28.83,"v":7.5},{"t":28.93,"v":8.1},{"t":29.03,"v":7.0},{"t":29.12,"v":5.8},{"t":29.22,"v":12.1},{"t":29.30,"v":18.3},{"t":29.38,"v":18.9},{"t":29.51,"v":17.8},{"t":29.64,"v":14.9},{"t":29.77,"v":11.8},{"t":29.86,"v":11.5},{"t":29.96,"v":13.2}]
},
"encoding":{
"x":{"field":"t","type":"quantitative","scale":{"domain":[1,30],"nice":false,"zero":false},
"axis":{"values":[1,2,3,4,5,6,7,8,9,10,11,12,13,14,15,16,17,18,19,20,21,22,23,24,25,26,27,28,29],"grid":false,"ticks":false,"tickSize":0,"labelAlign":"left","labelBaseline":"alphabetic","labelPadding":124,"labelFlush":false,"labelOverlap":false,"labelFontSize":68,"labelColor":"#000000","labelFont":"Open Sans","domainColor":"#7F7F7F","domainWidth":6,"title":"2016 / 2","titleFont":"Open Sans","titleFontSize":89,"titleFontWeight":"normal","titleColor":"#000000","titleX":1306,"titleY":282,"titleAlign":"center","titleBaseline":"alphabetic"}},
"y":{"field":"v","type":"quantitative","scale":{"domain":[0,60],"nice":false},
"axis":{"values":[0,10,20,30,40,50,60],"grid":true,"gridColor":"#A6A6A6","gridWidth":4,"ticks":false,"tickSize":0,"labelPadding":75,"labelFontSize":62,"labelColor":"#000000","labelFont":"DejaVu Sans","domainColor":"#A6A6A6","domainWidth":7,"title":"[°C]","titleFont":"Liberation Sans","titleFontSize":76,"titleFontWeight":"normal","titleColor":"#000000","titleAngle":-90,"titleX":-230,"titleY":464,"titleAlign":"center","titleBaseline":"middle"}}
},
"layer":[
{"data":{"name":"LDK"},"mark":{"type":"line","strokeWidth":6,"strokeJoin":"round"},"encoding":{"color":{"datum":"LDK","type":"nominal","title":null,"scale":{"domain":["LDK","bed room","child room","washroom","sunspace","outside"],"range":["#70AD47","#808080","#FFC000","#5B9BD5","#ED7D31","#7F7F7F"]}},"strokeDash":{"datum":"LDK","type":"nominal","title":null,"scale":{"domain":["LDK","bed room","child room","washroom","sunspace","outside"],"range":[[1,0],[1,0],[1,0],[1,0],[1,0],[16,9]]}}}},
{"data":{"name":"bedroom"},"mark":{"type":"line","strokeWidth":6,"strokeJoin":"round"},"encoding":{"color":{"datum":"bed room","type":"nominal","title":null},"strokeDash":{"datum":"bed room","type":"nominal","title":null}}},
{"data":{"name":"child"},"mark":{"type":"line","strokeWidth":6,"strokeJoin":"round"},"encoding":{"color":{"datum":"child room","type":"nominal","title":null},"strokeDash":{"datum":"child room","type":"nominal","title":null}}},
{"data":{"name":"washroom"},"mark":{"type":"line","strokeWidth":6,"strokeJoin":"round"},"encoding":{"color":{"datum":"washroom","type":"nominal","title":null},"strokeDash":{"datum":"washroom","type":"nominal","title":null}}},
{"data":{"name":"sunspace"},"mark":{"type":"line","strokeWidth":6,"strokeJoin":"round"},"encoding":{"color":{"datum":"sunspace","type":"nominal","title":null},"strokeDash":{"datum":"sunspace","type":"nominal","title":null}}},
{"data":{"name":"outside"},"mark":{"type":"line","strokeWidth":6,"strokeJoin":"round"},"encoding":{"color":{"datum":"outside","type":"nominal","title":null},"strokeDash":{"datum":"outside","type":"nominal","title":null}}}
]
}
